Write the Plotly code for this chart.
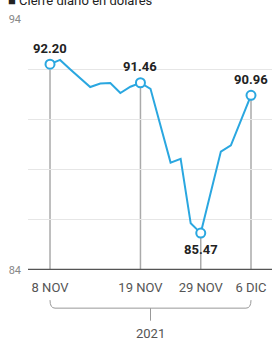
import plotly.graph_objects as go

# Data
dates = ["8 NOV", "9 NOV", "10 NOV", "11 NOV", "12 NOV", "15 NOV", "16 NOV", "17 NOV",
         "18 NOV", "19 NOV", "22 NOV", "23 NOV", "24 NOV", "25 NOV", "26 NOV", "29 NOV",
         "30 NOV", "1 DIC", "2 DIC", "3 DIC", "6 DIC"]
values = [92.20, 92.37, 92.00, 91.65, 91.29, 91.43, 91.45, 91.05, 91.30, 91.46,
          91.22, 89.75, 88.28, 88.43, 85.86, 85.47, 87.10, 88.72, 88.97, 89.97, 90.96]
label_idx = [0, 9, 15, 20]
tick_labels = ["8 NOV", "19 NOV", "29 NOV", "6 DIC"]
y_ticks = [84, 86, 88, 90, 92, 94]
y_ticktext = ["84", "", "", "", "", "94"]
year_label = "2021"
title = "■ Cierre diario en dólares"

xs = list(range(len(values)))
blue = "#2aa7e0"

fig = go.Figure()

# vertical drop lines at labelled points
for i in label_idx:
    fig.add_shape(type="line", x0=i, x1=i, y0=84, y1=values[i], xref="x", yref="y",
                  line=dict(color="#aaaaaa", width=1.5), layer="below")

fig.add_trace(go.Scatter(x=xs, y=values, mode="lines", line=dict(color=blue, width=2),
                         hoverinfo="skip", showlegend=False))
fig.add_trace(go.Scatter(x=[xs[i] for i in label_idx], y=[values[i] for i in label_idx],
                         mode="markers",
                         marker=dict(size=9, color="white", line=dict(color=blue, width=2)),
                         showlegend=False))

# value labels
offsets = {0: 16, 9: 16, 15: -16, 20: 16}
for i in label_idx:
    fig.add_annotation(x=i, y=values[i], text=f"<b>{values[i]:.2f}</b>", showarrow=False,
                       yshift=offsets[i], font=dict(size=13, color="#222222",
                                                     family="Roboto, Arial, sans-serif"))

# bracket for year
x0, x1 = label_idx[0], label_idx[-1]
xm = (x0 + x1) / 2
yb = -0.152
ytop = -0.12
fig.add_shape(type="path", xref="x", yref="paper",
              path=f"M {x0},{ytop} Q {x0},{yb} {x0+0.5},{yb} L {x1-0.5},{yb} Q {x1},{yb} {x1},{ytop}",
              line=dict(color="#999999", width=1))
fig.add_shape(type="line", xref="x", yref="paper", x0=xm, x1=xm, y0=yb, y1=yb - 0.05,
              line=dict(color="#999999", width=1))
fig.add_annotation(x=xm, xref="x", y=-0.252, yref="paper", text=year_label, showarrow=False,
                   yanchor="middle", font=dict(size=13, color="#555555",
                                               family="Liberation Sans Narrow, Roboto, sans-serif"))

# title
fig.add_annotation(x=-22/244, xref="paper", y=1 + 19/251, yref="paper", text=title,
                   showarrow=False, xanchor="left", yanchor="middle",
                   font=dict(size=13, color="#222222", family="Roboto, Arial, sans-serif"))

fig.update_layout(
    width=272, height=340,
    margin=dict(l=28, r=0, t=19, b=70, autoexpand=False),
    paper_bgcolor="white", plot_bgcolor="white",
    xaxis=dict(range=[-2.19, 22.09], tickvals=label_idx, ticktext=tick_labels,
               showgrid=False, zeroline=False, showline=False, ticks="",
               ticklabelstandoff=8,
               tickfont=dict(size=13, color="#555555",
                             family="Liberation Sans Narrow, Roboto, sans-serif")),
    yaxis=dict(range=[84, 94], tickvals=y_ticks, ticktext=y_ticktext,
               showgrid=True, gridcolor="#e6e6e6", gridwidth=1, zeroline=False,
               ticks="", ticklabelstandoff=6,
               tickfont=dict(size=11, color="#888888", family="Roboto, Arial, sans-serif")),
)
# baseline axis
fig.add_shape(type="line", xref="paper", yref="y", x0=0, x1=1, y0=84, y1=84,
              line=dict(color="#555555", width=2.5))

fig.write_html("out.html", config={"displayModeBar": False},
               post_script="document.body.style.margin='0';document.body.style.overflow='hidden';")
